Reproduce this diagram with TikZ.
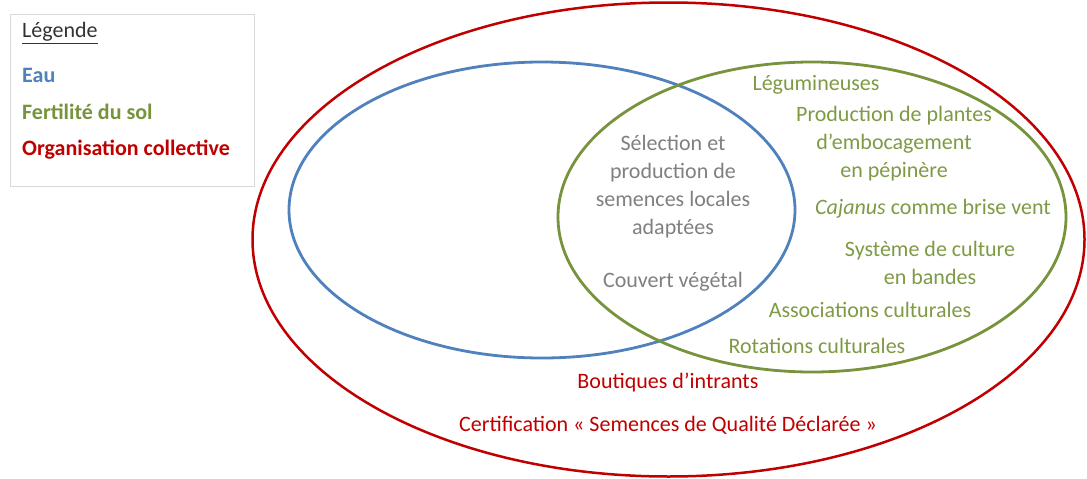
\documentclass[tikz,border=0pt]{standalone}
\usepackage{fontspec}
\setmainfont{Carlito}
\usetikzlibrary{shapes.geometric}
\definecolor{eaublue}{HTML}{4F81BD}
\definecolor{soilgreen}{HTML}{77933C}
\definecolor{txtgreen}{HTML}{7F9A45}
\definecolor{orgred}{HTML}{C00000}
\definecolor{txtgray}{HTML}{808080}
\definecolor{boxgray}{HTML}{D9D9D9}
\begin{document}
\begin{tikzpicture}[x=1pt,y=-1pt,
  ring/.style={ellipse,inner sep=0pt,line width=2.8pt},
  lbl/.style={inner sep=0pt,align=center,font=\fontsize{22}{28}\selectfont},
  leg/.style={inner sep=0pt,anchor=west,font=\fontsize{22}{24}\selectfont\bfseries}]
\useasboundingbox (0,0) rectangle (1087,479);
\fill[white] (0,0) rectangle (1087,479);
% legend
\node[draw=boxgray,line width=0.8pt,minimum width=244pt,minimum height=172pt,inner sep=0pt] (legbox) at (132,100) {};
\node[leg,font=\fontsize{22}{24}\selectfont,text=black!80] (legtitle) at (22,33) {\underline{Légende}};
\node[leg,text=eaublue] (legeau) at (22,75) {Eau};
\node[leg,text=soilgreen] (legsol) at (22,112) {Fertilité du sol};
\node[leg,text=orgred] (legorg) at (22,150) {Organisation collective};
% ellipses
\node[ring,draw=orgred,line width=2.5pt,minimum width=832pt,minimum height=474pt] (org) at (668.5,239.5) {};
\node[ring,draw=eaublue,minimum width=506pt,minimum height=296pt] (eau) at (542,210) {};
\node[ring,draw=soilgreen,minimum width=508pt,minimum height=310pt] (sol) at (812,217) {};
% intersection texts
\node[lbl,text=txtgray] (selection) at (673,187) {Sélection et\\production de\\semences locales\\adaptées};
\node[lbl,text=txtgray] (couvert) at (673,282) {Couvert végétal};
% soil texts
\node[lbl,text=txtgreen] (legum) at (816,85) {Légumineuses};
\node[lbl,text=txtgreen] (plantes) at (894,144) {Production de plantes\\d’embocagement\\en pépinère};
\node[lbl,text=txtgreen] (cajanus) at (933,209) {\textit{Cajanus} comme brise vent};
\node[lbl,text=txtgreen] (bandes) at (930,263) {Système de culture\\en bandes};
\node[lbl,text=txtgreen] (assoc) at (870,310) {Associations culturales};
\node[lbl,text=txtgreen] (rotat) at (817,346) {Rotations culturales};
% organisation texts
\node[lbl,text=orgred] (boutiques) at (668,383) {Boutiques d’intrants};
\node[lbl,text=orgred] (certif) at (668,425) {Certification « Semences de Qualité Déclarée »};
\end{tikzpicture}
\end{document}
